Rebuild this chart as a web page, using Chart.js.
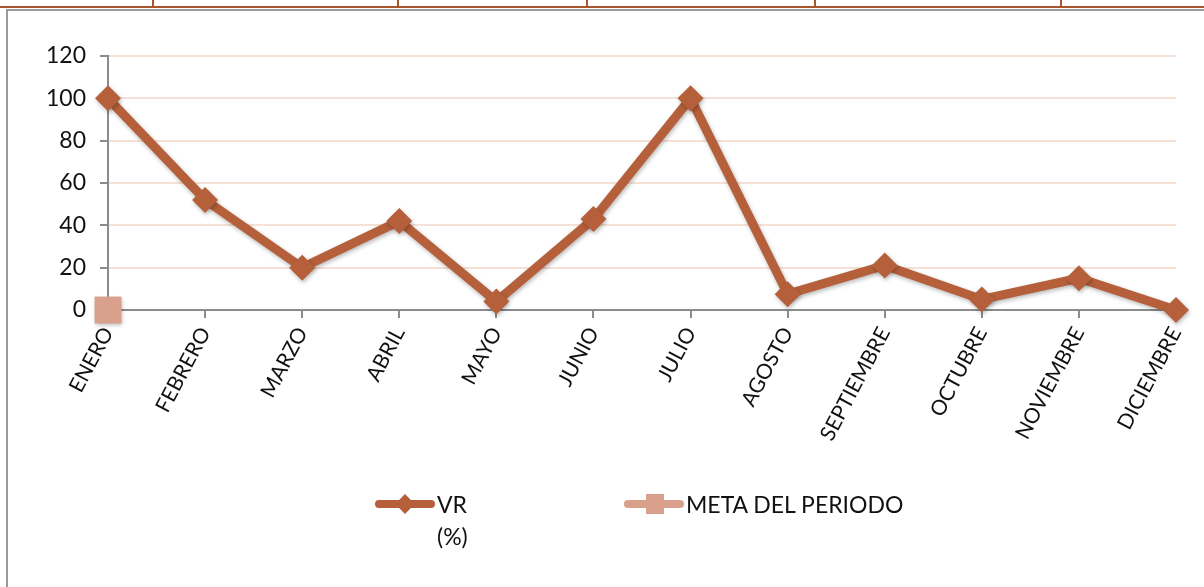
<!DOCTYPE html>
<html>
<head>
<meta charset="utf-8">
<script src="https://cdn.jsdelivr.net/npm/chart.js@4"></script>
<style>
  html, body { margin: 0; padding: 0; background: #fff; }
  body { width: 1204px; height: 587px; position: relative; overflow: hidden; font-family: Lato, "Open Sans", sans-serif; }
  #wrap { position: absolute; left: 0; top: 0; width: 1204px; height: 587px; }
  .tabla { position: absolute; left: 0; top: 6px; width: 1204px; height: 0; border-top: 2px solid #a8552c; }
  .corte { position: absolute; top: 0; width: 2px; height: 7px; background: #a8552c; }
  .marco { position: absolute; left: 6px; top: 9px; width: 1300px; height: 700px; border-left: 2px solid #9a9a9a; border-top: 2px solid #9a9a9a; }
  .leyenda { position: absolute; top: 488px; font-size: 23px; color: #111; line-height: 32px; }
  .muestra { position: absolute; height: 8px; border-radius: 4px; top: 12px; }
  .marca { position: absolute; }
</style>
</head>
<body>
<div class="tabla"></div>
<div class="corte" style="left:152px"></div>
<div class="corte" style="left:397px"></div>
<div class="corte" style="left:586px"></div>
<div class="corte" style="left:814px"></div>
<div class="corte" style="left:1060px"></div>
<div class="marco"></div>
<div id="wrap"><canvas id="grafico" width="1204" height="587"></canvas></div>
<div id="leyenda"></div>
<script>
// Meses del periodo y valores
const meses = ['ENERO', 'FEBRERO', 'MARZO', 'ABRIL', 'MAYO', 'JUNIO', 'JULIO', 'AGOSTO', 'SEPTIEMBRE', 'OCTUBRE', 'NOVIEMBRE', 'DICIEMBRE'];
const valoresVR = [100, 52, 20, 42, 4, 43, 100, 7.5, 21, 5, 15, 0];
const metaPeriodo = [0, null, null, null, null, null, null, null, null, null, null, null];
const ticksY = [0, 20, 40, 60, 80, 100, 120];

const colorVR = '#b5603a';
const colorMeta = '#d9a08b';
const fuente = 'Lato, "Open Sans", sans-serif';

// sombra suave como la de Excel bajo las series
const sombra = {
    id: 'sombra',
    beforeDatasetsDraw(chart) {
        const ctx = chart.ctx;
        ctx.save();
        ctx.shadowColor = 'rgba(0,0,0,0.28)';
        ctx.shadowBlur = 4;
        ctx.shadowOffsetX = 1;
        ctx.shadowOffsetY = 2;
    },
    afterDatasetsDraw(chart) {
        chart.ctx.restore();
    }
};

new Chart(document.getElementById('grafico'), {
    type: 'line',
    data: {
        labels: meses,
        datasets: [
            {
                label: 'VR (%)',
                data: valoresVR,
                borderColor: colorVR,
                backgroundColor: colorVR,
                borderWidth: 9,
                pointStyle: 'rectRot',
                pointRadius: 13,
                pointBorderWidth: 0,
                tension: 0,
                clip: false
            },
            {
                label: 'META DEL PERIODO',
                data: metaPeriodo,
                borderColor: colorMeta,
                backgroundColor: colorMeta,
                borderWidth: 8,
                pointStyle: 'rect',
                pointRadius: 19,
                pointBorderWidth: 0,
                clip: false
            }
        ]
    },
    options: {
        responsive: false,
        animation: false,
        layout: { padding: { top: 56, right: 28, left: 0, bottom: 0 } },
        plugins: { legend: { display: false }, tooltip: { enabled: false } },
        scales: {
            y: {
                min: 0,
                max: 120,
                afterBuildTicks: s => { s.ticks = ticksY.map(v => ({ value: v })); },
                afterFit: s => { s.width = 108; },
                grid: { color: '#f6e1d7', lineWidth: 2, tickLength: 8, tickColor: '#8c8c8c', tickWidth: 2 },
                border: { color: '#8c8c8c', width: 2 },
                ticks: { color: '#111', font: { family: fuente, size: 23 }, padding: 14 }
            },
            x: {
                offset: false,
                afterFit: s => { s.height = 277; },
                grid: { drawOnChartArea: false, tickLength: 8, color: '#8c8c8c', lineWidth: 2 },
                border: { color: '#8c8c8c', width: 2 },
                ticks: { color: '#111', font: { family: fuente, size: 21 }, minRotation: 62, maxRotation: 62, padding: 5, autoSkip: false }
            }
        }
    },
    plugins: [sombra]
});

// Leyenda en HTML para poder partir "VR (%)" en dos renglones
const leyenda = document.getElementById('leyenda');
leyenda.innerHTML =
    '<div class="leyenda" style="left:375px;width:120px">' +
      '<div class="muestra" style="left:0;width:60px;background:' + colorVR + '"></div>' +
      '<div class="marca" style="left:23px;top:9px;width:14px;height:14px;background:' + colorVR + ';transform:rotate(45deg)"></div>' +
      '<div style="margin-left:62px">VR<br>(%)</div>' +
    '</div>' +
    '<div class="leyenda" style="left:624px;width:340px">' +
      '<div class="muestra" style="left:0;width:60px;background:' + colorMeta + '"></div>' +
      '<div class="marca" style="left:22px;top:6px;width:18px;height:20px;background:' + colorMeta + '"></div>' +
      '<div style="margin-left:62px">META DEL PERIODO</div>' +
    '</div>';
</script>
</body>
</html>
